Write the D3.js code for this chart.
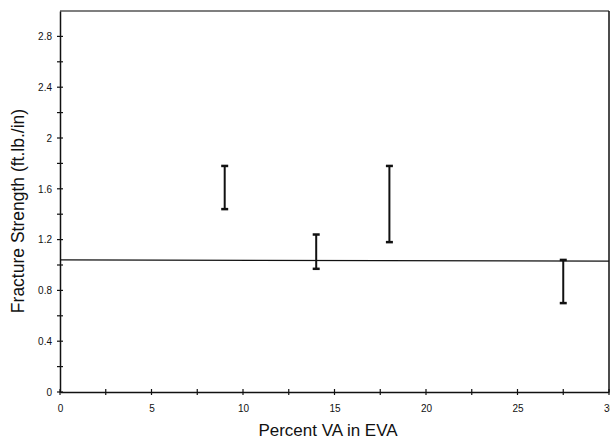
<!DOCTYPE html>
<html><head><meta charset="utf-8">
<script src="https://cdn.jsdelivr.net/npm/d3@7"></script>
<style>html,body{margin:0;padding:0;background:#fff}svg{display:block}</style>
</head><body>
<script>
const percentVA = [9, 14, 18, 27.5];
const strengthHigh = [1.78, 1.24, 1.78, 1.04];
const strengthLow = [1.44, 0.97, 1.18, 0.70];
const refLineX = [0, 30];
const refLineY = [1.04, 1.03];
const xTicks = [0, 5, 10, 15, 20, 25, 30];
const yTicks = [0, 0.4, 0.8, 1.2, 1.6, 2, 2.4, 2.8];

const W = 610, H = 439;
const m = {left: 60, right: 1, top: 11, bottom: 47};
const svg = d3.select("body").append("svg").attr("width", W).attr("height", H);
const x = d3.scaleLinear().domain([0, 30]).range([m.left, W - m.right]);
const y = d3.scaleLinear().domain([0, 3]).range([H - m.bottom, m.top]);
const font = "Liberation Sans, Arial, sans-serif";

// frame
svg.append("line").attr("x1", x(0)).attr("x2", x(30)).attr("y1", y(3)).attr("y2", y(3)).attr("stroke", "#555").attr("stroke-width", 1.5);
svg.append("line").attr("x1", x(30)).attr("x2", x(30)).attr("y1", y(3)).attr("y2", y(0)).attr("stroke", "#111").attr("stroke-width", 1.5);

// axes
const xAxis = d3.axisBottom(x).tickValues(xTicks).tickFormat(d3.format("d")).tickSize(0).tickPadding(13);
const gx = svg.append("g").attr("transform", `translate(0,${y(0)})`).call(xAxis);
gx.select(".domain").attr("stroke", "#111").attr("stroke-width", 1.5);
gx.selectAll("text").attr("font-family", font).attr("font-size", 10).attr("fill", "#111");
const xMinor = d3.range(0, 30.01, 2.5);
svg.append("g").selectAll("line").data(xMinor).join("line")
  .attr("x1", d => x(d)).attr("x2", d => x(d)).attr("y1", y(0) - 3).attr("y2", y(0) + 3)
  .attr("stroke", "#111").attr("stroke-width", 1.2);

const yAxis = d3.axisLeft(y).tickValues(yTicks).tickFormat(d => d === 0 || d === 2 ? String(d) : d3.format(".1f")(d)).tickSize(0).tickPadding(8);
const gy = svg.append("g").attr("transform", `translate(${x(0)},0)`).call(yAxis);
gy.select(".domain").attr("stroke", "#111").attr("stroke-width", 1.5);
gy.selectAll("text").attr("font-family", font).attr("font-size", 10).attr("fill", "#111");
const yMinor = d3.range(0, 2.81, 0.2);
svg.append("g").selectAll("line").data(yMinor).join("line")
  .attr("x1", x(0) - 3).attr("x2", x(0) + 3).attr("y1", d => y(d)).attr("y2", d => y(d))
  .attr("stroke", "#111").attr("stroke-width", 1.2);

// reference line
svg.append("line").attr("x1", x(refLineX[0])).attr("x2", x(refLineX[1]))
  .attr("y1", y(refLineY[0])).attr("y2", y(refLineY[1])).attr("stroke", "#111").attr("stroke-width", 1.3);

// error bars
const data = percentVA.map((v, i) => ({x: v, hi: strengthHigh[i], lo: strengthLow[i]}));
const g = svg.append("g").attr("stroke", "#111");
g.selectAll(".v").data(data).join("line")
  .attr("x1", d => x(d.x)).attr("x2", d => x(d.x)).attr("y1", d => y(d.hi)).attr("y2", d => y(d.lo)).attr("stroke-width", 2);
g.selectAll(".t").data(data).join("line")
  .attr("x1", d => x(d.x) - 3.5).attr("x2", d => x(d.x) + 3.5).attr("y1", d => y(d.hi)).attr("y2", d => y(d.hi)).attr("stroke-width", 2.5);
g.selectAll(".b").data(data).join("line")
  .attr("x1", d => x(d.x) - 3.5).attr("x2", d => x(d.x) + 3.5).attr("y1", d => y(d.lo)).attr("y2", d => y(d.lo)).attr("stroke-width", 2.5);

// titles
svg.append("text").attr("x", 328).attr("y", 436).attr("text-anchor", "middle")
  .attr("font-family", font).attr("font-size", 17).attr("fill", "#111").text("Percent VA in EVA");
svg.append("text").attr("transform", "translate(24,211) rotate(-90)").attr("text-anchor", "middle")
  .attr("font-family", font).attr("font-size", 17.5).attr("fill", "#111").text("Fracture Strength (ft.lb./in)");
</script>
</body></html>
